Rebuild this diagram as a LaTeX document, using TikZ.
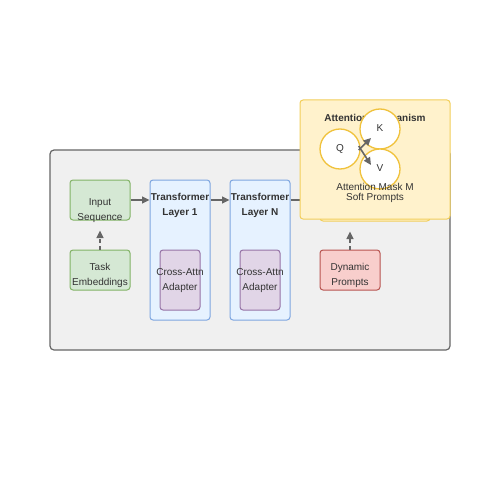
\documentclass[tikz,border=0pt]{standalone}
\usepackage{fontspec}
\setmainfont{Liberation Sans}
\usetikzlibrary{arrows.meta}

\definecolor{txtgray}{HTML}{333333}
\definecolor{linegray}{HTML}{666666}
\definecolor{bgfill}{HTML}{F0F0F0}
\definecolor{grnfill}{HTML}{D5E8D4}
\definecolor{grnline}{HTML}{82B366}
\definecolor{bluefill}{HTML}{E6F2FF}
\definecolor{blueline}{HTML}{7EA6E0}
\definecolor{purpfill}{HTML}{E1D5E7}
\definecolor{purpline}{HTML}{9673A6}
\definecolor{redfill}{HTML}{F8CECC}
\definecolor{redline}{HTML}{B85450}
\definecolor{ylwfill}{HTML}{FFF2CC}
\definecolor{ylwline}{HTML}{F2CE5A}
\definecolor{ringline}{HTML}{F0C23C}

\tikzset{
  box/.style={draw, rounded corners=3pt, line width=1pt, inner sep=0pt},
  greenbox/.style={box, fill=grnfill, draw=grnline, minimum width=60pt, minimum height=40pt},
  layerbox/.style={box, fill=bluefill, draw=blueline, minimum width=60pt, minimum height=140pt},
  adapterbox/.style={box, fill=purpfill, draw=purpline, minimum width=40pt, minimum height=60pt},
  promptbox/.style={box, fill=redfill, draw=redline, minimum width=60pt, minimum height=40pt},
  ylwbox/.style={box, fill=ylwfill, draw=ylwline},
  ring/.style={circle, draw=ringline, fill=white, line width=1.3pt, minimum size=40pt, inner sep=0pt},
  txt/.style={text=txtgray, align=center, font=\fontsize{10}{15}\selectfont, inner sep=0pt},
  bold/.style={txt, font=\fontsize{10}{15}\selectfont\bfseries},
  arr/.style={draw=linegray, line width=1.6pt, -{Triangle[length=7.5pt, width=7pt]}},
  dasharr/.style={arr, dash pattern=on 4pt off 3pt},
}

\begin{document}
\begin{tikzpicture}[x=1pt, y=-1pt]
  \useasboundingbox (0,0) rectangle (500,500);

  % Outer frame
  \node[box, fill=bgfill, draw=linegray, rounded corners=4pt, line width=1.2pt,
        minimum width=400pt, minimum height=200pt] (frame) at (250,250) {};

  % Inputs
  \node[greenbox] (inp) at (100,200) {};
  \node[txt] (inp-t) at (100,210.5) {Input\\Sequence};
  \node[greenbox] (task) at (100,270) {};
  \node[txt] (task-t) at (100,275.5) {Task\\Embeddings};

  % Transformer layers
  \node[layerbox] (lay1) at (180,250) {};
  \node[bold] (lay1-t) at (180,205.5) {Transformer\\Layer 1};
  \node[adapterbox] (ad1) at (180,280) {};
  \node[txt] (ad1-t) at (180,280.5) {Cross-Attn\\Adapter};

  \node[layerbox] (layn) at (260,250) {};
  \node[bold] (layn-t) at (260,205.5) {Transformer\\Layer N};
  \node[adapterbox] (adn) at (260,280) {};
  \node[txt] (adn-t) at (260,280.5) {Cross-Attn\\Adapter};

  % Prompts
  \node[promptbox] (dyn) at (350,270) {};
  \node[txt] (dyn-t) at (350,275.5) {Dynamic\\Prompts};
  \node[ylwbox, minimum width=110pt, minimum height=41pt] (soft) at (375,200.5) {};

  \draw[arr] (inp.east) -- (lay1.west |- inp.east);
  \draw[arr] (lay1.east |- inp.east) -- (layn.west |- inp.east);
  \draw[arr] (layn.east |- inp.east) -- (soft.west |- inp.east);
  \draw[dasharr] (task.north) -- ([yshift=-10pt]inp.south);
  \draw[dasharr] (dyn.north) -- ([yshift=-10pt]dyn.north |- soft.south);

  % Attention block
  \node[ylwbox, minimum width=150pt, minimum height=119pt] (attn) at (375,159.5) {};
  \node[bold] (attn-t) at (375,118) {Attention Mechanism};
  \node[ring] (q) at (340,149) {};
  \node[ring] (k) at (380,129) {};
  \node[ring] (v) at (380,169) {};
  \node[txt] (q-t) at (340,149) {Q};
  \node[txt] (k-t) at (380,128) {K};
  \node[txt] (v-t) at (380,168) {V};
  \coordinate (qk) at (371,138);
  \coordinate (qv) at (371,165);
  \draw[arr] ([xshift=-2pt,yshift=-1pt]q.east) -- (qk);
  \draw[arr] ([xshift=-2pt,yshift=3pt]q.east) -- (qv);
  \node[txt, text=txtgray] (mask-t) at (375,193) {Attention Mask M\\[-4.5pt]Soft Prompts};
\end{tikzpicture}
\end{document}
